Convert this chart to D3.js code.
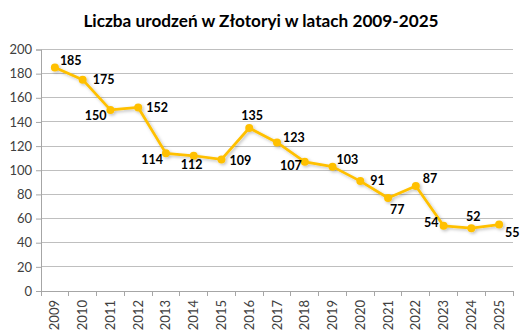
<!DOCTYPE html>
<html><head><meta charset="utf-8">
<script src="https://cdn.jsdelivr.net/npm/d3@7"></script>
<style>body{margin:0;background:#fff}svg{display:block}</style>
</head><body><div id="chart"></div>
<script>
const years = ["2009","2010","2011","2012","2013","2014","2015","2016","2017","2018","2019","2020","2021","2022","2023","2024","2025"];
const births = [185,175,150,152,114,112,109,135,123,107,103,91,77,87,54,52,55];
const yTicks = [0,20,40,60,80,100,120,140,160,180,200];
const title = "Liczba urodzeń w Złotoryi w latach 2009-2025";
// label placement: [dx, dy, anchor]
const labelPlace = [[5,-7,"start"],[10,0,"start"],[-4,6,"end"],[8,0,"start"],[-3,6,"end"],[-2,9,"middle"],[8,1,"start"],[3,-12,"middle"],[6,-5,"start"],[-3,4,"end"],[4,-7,"start"],[10,0,"start"],[2,12,"start"],[7,-7,"start"],[-5,-3,"end"],[2,-12,"middle"],[6,8,"start"]];

const W=528,H=336;
const m={left:41,right:15,top:49.5,bottom:45};
const svg=d3.select("#chart").append("svg").attr("width",W).attr("height",H);
const font="Lato, 'Open Sans', sans-serif";

const defs=svg.append("defs");
const f=defs.append("filter").attr("id","sh").attr("x","-50%").attr("y","-50%").attr("width","200%").attr("height","200%");
f.append("feDropShadow").attr("dx",1.5).attr("dy",1.5).attr("stdDeviation",1.5).attr("flood-color","#000").attr("flood-opacity",0.25);

const x=d3.scaleBand().domain(years).range([m.left,W-m.right]);
const y=d3.scaleLinear().domain([0,200]).range([H-m.bottom,m.top]);

svg.append("text").attr("x",261).attr("y",27).attr("text-anchor","middle")
  .attr("font-family",font).attr("font-weight","bold").attr("font-size",17.2).attr("fill","#000").text(title);

// gridlines
svg.append("g").selectAll("line").data(yTicks.filter(d=>d>0)).join("line")
  .attr("x1",m.left).attr("x2",W-m.right).attr("y1",d=>y(d)).attr("y2",d=>y(d))
  .attr("stroke","#bfbfbf").attr("stroke-width",1).attr("shape-rendering","crispEdges");

// y axis
const ya=svg.append("g").attr("transform",`translate(${m.left},0)`)
  .call(d3.axisLeft(y).tickValues(yTicks).tickSize(5).tickPadding(4));
ya.select(".domain").attr("stroke","#a6a6a6");
ya.selectAll(".tick line").attr("stroke","#a6a6a6");
ya.selectAll("text").attr("font-family",font).attr("font-size",13).attr("fill","#404040");

// x axis
const xa=svg.append("g").attr("transform",`translate(0,${H-m.bottom})`);
xa.append("line").attr("x1",m.left).attr("x2",W-m.right).attr("stroke","#a6a6a6").attr("shape-rendering","crispEdges");
const bounds=years.map(d=>x(d)).concat([W-m.right]);
xa.selectAll("line.tk").data(bounds).join("line").attr("class","tk")
  .attr("x1",d=>d).attr("x2",d=>d).attr("y1",0).attr("y2",5).attr("stroke","#a6a6a6").attr("shape-rendering","crispEdges");
xa.selectAll("text").data(years).join("text")
  .attr("transform",d=>`translate(${x(d)+x.bandwidth()/2+4.5},9) rotate(-90)`)
  .attr("text-anchor","end").attr("font-family",font).attr("font-size",13).attr("fill","#404040").text(d=>d);

// line
const cx=(d,i)=>x(years[i])+x.bandwidth()/2;
const line=d3.line().x((d,i)=>cx(d,i)).y(d=>y(d));
const g=svg.append("g").attr("filter","url(#sh)");
g.append("path").datum(births).attr("d",line).attr("fill","none").attr("stroke","#FFC000").attr("stroke-width",2.75).attr("stroke-linejoin","round");
g.selectAll("circle").data(births).join("circle").attr("cx",cx).attr("cy",d=>y(d)).attr("r",4).attr("fill","#FFC000");

// labels
svg.append("g").selectAll("text").data(births).join("text")
  .attr("x",(d,i)=>cx(d,i)+labelPlace[i][0]).attr("y",(d,i)=>y(d)+labelPlace[i][1])
  .attr("dy","0.35em").attr("text-anchor",(d,i)=>labelPlace[i][2])
  .attr("font-family",font).attr("font-weight","bold").attr("font-size",12.5).attr("fill","#000").text(d=>d);
</script></body></html>
